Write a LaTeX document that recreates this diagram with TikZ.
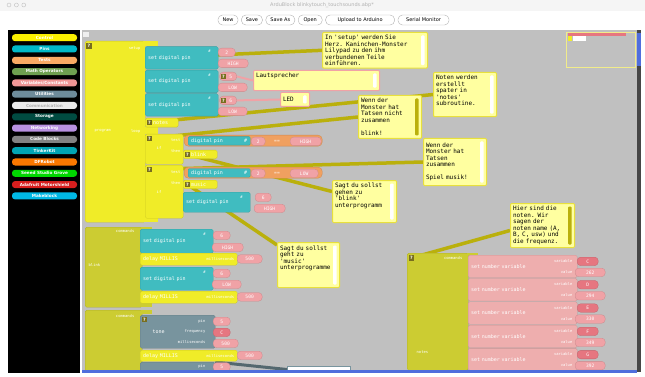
\documentclass[tikz,border=0pt]{standalone}
\usepackage{fontspec}
\setsansfont{DejaVu Sans}
\setmonofont{DejaVu Sans Mono}
\usetikzlibrary{positioning}

\definecolor{canvasgray}{RGB}{192,192,192}
\definecolor{ctrlyellow}{RGB}{240,236,40}
\definecolor{subolive}{RGB}{204,204,50}
\definecolor{pincyan}{RGB}{64,188,192}
\definecolor{valpink}{RGB}{240,162,166}
\definecolor{varpink}{RGB}{238,174,174}
\definecolor{varred}{RGB}{230,118,128}
\definecolor{cmporange}{RGB}{240,160,96}
\definecolor{utilgray}{RGB}{120,148,158}
\definecolor{cmtyellow}{RGB}{255,255,160}
\definecolor{cmtborder}{RGB}{232,224,60}
\definecolor{linkolive}{RGB}{186,176,12}
\definecolor{qolive}{RGB}{120,110,30}
\definecolor{scrollblue}{RGB}{80,110,220}
% palette colours
\definecolor{palctrl}{RGB}{250,240,0}
\definecolor{palpins}{RGB}{0,185,200}
\definecolor{paltests}{RGB}{250,170,100}
\definecolor{palmath}{RGB}{110,160,80}
\definecolor{palvars}{RGB}{240,150,150}
\definecolor{palutil}{RGB}{110,140,155}
\definecolor{palcomm}{RGB}{235,235,235}
\definecolor{palstore}{RGB}{0,75,65}
\definecolor{palnet}{RGB}{185,145,225}
\definecolor{palcode}{RGB}{130,130,130}
\definecolor{paltinker}{RGB}{0,165,180}
\definecolor{paldf}{RGB}{250,120,0}
\definecolor{palseeed}{RGB}{0,215,0}
\definecolor{palada}{RGB}{215,30,30}
\definecolor{palmake}{RGB}{0,185,230}

\newcommand{\palfont}{\fontsize{4.2}{5}\sffamily\bfseries}
\newcommand{\toolfont}{\fontsize{5}{6}\sffamily}
\newcommand{\titlefont}{\fontsize{5}{6}\sffamily}
\newcommand{\blkfont}{\fontsize{5}{5.5}\ttfamily}
\newcommand{\valfont}{\fontsize{4.6}{5}\ttfamily}
\newcommand{\qfont}{\fontsize{4.5}{5}\sffamily\bfseries}
\newcommand{\tagfont}{\fontsize{3.8}{4.2}\ttfamily}
\newcommand{\cmtfont}{\fontsize{6}{6.5}\ttfamily}

\pgfdeclarelayer{canvaslayer}
\pgfdeclarelayer{linklayer}
\pgfsetlayers{canvaslayer,linklayer,main}

\begin{document}
\begin{tikzpicture}[x=1pt, y=-1pt,
  palbtn/.style={rounded corners=3pt, minimum width=65pt, minimum height=7pt,
    inner sep=0pt, text=white, font=\palfont},
  toolbtn/.style={draw=gray!60, fill=white, rounded corners=4.5pt,
    minimum height=10pt, inner sep=1pt, font=\toolfont},
  blk/.style={anchor=north west, inner xsep=3pt, inner ysep=0pt,
    rounded corners=1.5pt, align=left, text=white, font=\blkfont, line width=0.3pt},
  ctrlblk/.style={blk, fill=ctrlyellow, draw=ctrlyellow!85!black},
  subblk/.style={blk, fill=subolive, draw=subolive!85!black},
  pinblk/.style={blk, fill=pincyan, draw=pincyan!85!black},
  toneblk/.style={blk, fill=utilgray, draw=utilgray!85!black},
  varblk/.style={blk, fill=varpink, draw=varpink!85!black},
  cmpblk/.style={blk, fill=cmporange, draw=cmporange!85!black, rounded corners=4pt},
  val/.style={anchor=north west, fill=valpink, draw=valpink!85!black, line width=0.3pt,
    rounded corners=3.5pt, inner sep=0pt, minimum height=8.5pt, text=white, font=\valfont},
  varval/.style={val, fill=varred, draw=varred!85!black},
  qbox/.style={anchor=north west, fill=qolive, text=white, font=\qfont,
    minimum size=5.5pt, inner sep=0pt},
  tag/.style={inner sep=0.5pt, text=white, font=\tagfont},
  cmt/.style={anchor=north west, fill=cmtyellow, draw=cmtborder, line width=1pt,
    rounded corners=1pt, align=left, inner xsep=2.5pt, inner ysep=2.5pt, text=black,
    font=\cmtfont, path picture={\fill[#1]
      ([xshift=-6.5pt, yshift=-3pt]path picture bounding box.north east) rectangle
      ([xshift=-3pt, yshift=3pt]path picture bounding box.south east);}},
  cmt/.default=white,
  link/.style={draw=linkolive, line width=3.5pt},
  pinklink/.style={draw=valpink, line width=2pt}
]
  \useasboundingbox (0,0) rectangle (645,377);

  % window, palette panel and canvas
  \begin{pgfonlayer}{canvaslayer}
    \fill[white] (0,0) rectangle (645,377);
    \fill[gray!8] (0,0) rectangle (645,11);
    \fill[black] (8,30) rectangle (80,373);
    \fill[canvasgray] (82,30) rectangle (637,372);
  \end{pgfonlayer}

  \node[draw=gray!50, circle, minimum size=4pt, inner sep=0pt] (dot1) at (9,5) {};
  \node[draw=gray!50, circle, minimum size=4pt, inner sep=0pt, right=3pt of dot1] (dot2) {};
  \node[draw=gray!50, circle, minimum size=4pt, inner sep=0pt, right=3pt of dot2] (dot3) {};
  \node[font=\titlefont, text=gray!60] (title) at (322,5.5) {ArduBlock blinkytouch\_touchsounds.abp*};

  % toolbar
  \node[toolbtn, minimum width=20pt] (new) at (228,20) {New};
  \node[toolbtn, minimum width=21pt, right=3pt of new] (save) {Save};
  \node[toolbtn, minimum width=29pt, right=3pt of save] (saveas) {Save As};
  \node[toolbtn, minimum width=24pt, right=3pt of saveas] (open) {Open};
  \node[toolbtn, minimum width=69pt, right=3pt of open] (upload) {Upload to Arduino};
  \node[toolbtn, minimum width=51pt, right=3pt of upload] (serial) {Serial Monitor};

  % block palette
  \node[palbtn, fill=palctrl] (pctrl) at (44.5,37.7) {Control};
  \node[palbtn, fill=palpins, below=3.9pt of pctrl] (ppins) {Pins};
  \node[palbtn, fill=paltests, below=3.9pt of ppins] (ptests) {Tests};
  \node[palbtn, fill=palmath, below=3.9pt of ptests] (pmath) {Math Operators};
  \node[palbtn, fill=palvars, below=3.9pt of pmath] (pvars) {Variables/Constants};
  \node[palbtn, fill=palutil, below=3.9pt of pvars] (putil) {Utilities};
  \node[palbtn, fill=palcomm, text=gray!60, below=3.9pt of putil] (pcomm) {Communication};
  \node[palbtn, fill=palstore, below=3.9pt of pcomm] (pstore) {Storage};
  \node[palbtn, fill=palnet, below=3.9pt of pstore] (pnet) {Networking};
  \node[palbtn, fill=palcode, below=3.9pt of pnet] (pcode) {Code Blocks};
  \node[palbtn, fill=paltinker, below=3.9pt of pcode] (ptinker) {TinkerKit};
  \node[palbtn, fill=paldf, below=3.9pt of ptinker] (pdf) {DFRobot};
  \node[palbtn, fill=palseeed, below=3.9pt of pdf] (pseeed) {Seeed Studio Grove};
  \node[palbtn, fill=palada, below=3.9pt of pseeed] (pada) {Adafruit Motorshield};
  \node[palbtn, fill=palmake, below=3.9pt of pada] (pmake) {Makeblock};

  % scrollbar and minimap
  \fill[gray!55!black] (637,30) rectangle (641,372);
  \fill[scrollblue] (637,33) rectangle (641,66);
  \fill[white!75!canvasgray] (83,32) rectangle (89,37);
  \node[anchor=north west, draw=cmtborder!60, line width=0.6pt, minimum width=69pt,
    minimum height=35pt, inner sep=0pt] (minimap) at (566,32) {};
  \fill[varred] (568,33.5) rectangle (626,36);
  \fill[ctrlyellow] (568,36) rectangle (572,41);
  \fill[white] (573,36) rectangle (586,41);

  % program: setup
  \node[ctrlblk, minimum width=60pt, minimum height=181pt] (prog) at (85,41) {};
  \fill[ctrlyellow] (143,41) rectangle (158,46);
  \fill[ctrlyellow] (143,127.5) rectangle (158,134);
  \fill[ctrlyellow] (143,217) rectangle (158,222);
  \node[qbox] (progq) at (86,43) {?};
  \node[tag, anchor=east] (setuplbl) at (141,48.5) {setup};
  \node[tag, anchor=west] (proglbl) at (94,131) {program};
  \node[tag, anchor=east] (looplbl) at (141,131) {loop};

  \node[pinblk, minimum width=73pt, minimum height=22.5pt, text width=67pt] (pin1) at (145,46.5) {set digital pin};
  \node[tag, anchor=east] (pin1n) at ([xshift=-7pt, yshift=-5pt]pin1.north east) {\#};
  \node[val, minimum width=17pt] (pin1a) at (218,48) {2};
  \node[val, minimum width=30pt] (pin1b) at (218,59) {HIGH};

  \node[pinblk, minimum width=73pt, minimum height=22.5pt, text width=67pt] (pin2) at (145,70) {set digital pin};
  \node[tag, anchor=east] (pin2n) at ([xshift=-7pt, yshift=-5pt]pin2.north east) {\#};
  \node[val, minimum width=17pt] (pin2a) at (219.5,72) {\hspace{5pt}5};
  \node[qbox] (pin2q) at (220.5,73.5) {?};
  \node[val, minimum width=29pt] (pin2b) at (218,83) {LOW};

  \node[pinblk, minimum width=73pt, minimum height=22.5pt, text width=67pt] (pin3) at (145,93.5) {set digital pin};
  \node[tag, anchor=east] (pin3n) at ([xshift=-7pt, yshift=-5pt]pin3.north east) {\#};
  \node[val, minimum width=17pt] (pin3a) at (219.5,96) {\hspace{5pt}6};
  \node[qbox] (pin3q) at (220.5,97.5) {?};
  \node[val, minimum width=29pt] (pin3b) at (218,107) {LOW};

  \node[ctrlblk, minimum width=33pt, minimum height=9pt, text width=27pt] (callnotes) at (145,118) {\hspace{5pt}notes};
  \node[qbox] (notesq) at (146.5,119.5) {?};

  % program: loop
  \node[ctrlblk, minimum width=38pt, minimum height=30pt] (if1) at (145,134) {};
  \node[qbox] (if1q) at (146.5,135.5) {?};
  \node[tag, anchor=east] (if1test) at (181,140) {test};
  \node[tag, anchor=east] (if1then) at (181,151) {then};
  \node[tag] (if1lbl) at (159,148) {if};
  \node[cmpblk, minimum width=138pt, minimum height=11pt] (cmp1) at (184,135) {};
  \node[pinblk, minimum width=62pt, minimum height=8.5pt, text width=56pt, rounded corners=1pt] (dpin1) at (188,136.5) {digital pin\hfill\#};
  \node[val, minimum width=14pt] (dpin1v) at (251,137) {2};
  \node[tag, font=\valfont] (eq1) at (277,141) {==};
  \node[val, minimum width=31pt] (hi1) at (290,137) {HIGH};
  \node[ctrlblk, minimum width=34pt, minimum height=8.5pt, text width=28pt] (callblink) at (183,150) {\hspace{5pt}blink};
  \node[qbox] (blinkq) at (184.5,151.5) {?};

  \node[ctrlblk, minimum width=38pt, minimum height=53pt] (if2) at (145,165) {};
  \node[qbox] (if2q) at (146.5,166.5) {?};
  \node[tag, anchor=east] (if2test) at (181,172) {test};
  \node[tag, anchor=east] (if2then) at (181,183) {then};
  \node[tag] (if2lbl) at (159,192) {if};
  \node[cmpblk, minimum width=138pt, minimum height=11pt] (cmp2) at (184,167) {};
  \node[pinblk, minimum width=62pt, minimum height=8.5pt, text width=56pt, rounded corners=1pt] (dpin2) at (188,168.5) {digital pin\hfill\#};
  \node[val, minimum width=14pt] (dpin2v) at (251,169) {2};
  \node[tag, font=\valfont] (eq2) at (277,173) {==};
  \node[val, minimum width=28pt] (lo2) at (290,169) {LOW};
  \node[ctrlblk, minimum width=34pt, minimum height=8.5pt, text width=28pt] (callmusic) at (183,180) {\hspace{5pt}music};
  \node[qbox] (musicq) at (184.5,181.5) {?};
  \node[pinblk, minimum width=67pt, minimum height=20pt, text width=61pt] (pin4) at (183,192) {set digital pin};
  \node[tag, anchor=east] (pin4n) at ([xshift=-7pt, yshift=-5pt]pin4.north east) {\#};
  \node[val, minimum width=16pt] (pin4a) at (255,193) {6};
  \node[val, minimum width=31pt] (pin4b) at (254,204) {HIGH};

  % subroutine blink
  \node[subblk, minimum width=57pt, minimum height=80pt] (subblink) at (85,227) {};
  \fill[subolive] (141,227) rectangle (152,231);
  \fill[subolive] (141,303) rectangle (152,307);
  \node[tag, anchor=east] (blinkcmd) at (135,231.5) {commands};
  \node[tag, anchor=west] (blinkname) at (88,265) {blink};
  \node[pinblk, minimum width=73pt, minimum height=24pt, text width=67pt] (pin5) at (140,229) {set digital pin};
  \node[tag, anchor=east] (pin5n) at ([xshift=-7pt, yshift=-5pt]pin5.north east) {\#};
  \node[val, minimum width=17pt] (pin5a) at (213,231) {6};
  \node[val, minimum width=31pt] (pin5b) at (212,243) {HIGH};
  \node[ctrlblk, minimum width=97pt, minimum height=12pt, text width=91pt] (delay1) at (140,253) {delay MILLIS\hfill{\tagfont milliseconds}};
  \node[val, minimum width=25pt] (delay1v) at (237,254.5) {500};
  \node[pinblk, minimum width=73pt, minimum height=23pt, text width=67pt] (pin6) at (140,267) {set digital pin};
  \node[tag, anchor=east] (pin6n) at ([xshift=-7pt, yshift=-5pt]pin6.north east) {\#};
  \node[val, minimum width=17pt] (pin6a) at (213,269) {6};
  \node[val, minimum width=29pt] (pin6b) at (212,280) {LOW};
  \node[ctrlblk, minimum width=97pt, minimum height=12pt, text width=91pt] (delay2) at (140,291) {delay MILLIS\hfill{\tagfont milliseconds}};
  \node[val, minimum width=25pt] (delay2v) at (237,292.5) {500};

  % subroutine music
  \node[subblk, minimum width=57pt, minimum height=62pt] (submusic) at (85,310) {};
  \fill[subolive] (141,310) rectangle (152,314);
  \node[tag, anchor=east] (musiccmd) at (135,316) {commands};
  \node[toneblk, minimum width=75pt, minimum height=33pt] (tone) at (140,315) {};
  \node[qbox] (toneq) at (141.5,316.5) {?};
  \node[tag, anchor=east] (tonepinlbl) at (206,321) {pin};
  \node[tag, anchor=east] (tonefreqlbl) at (206,331.5) {frequency};
  \node[tag, anchor=east] (tonedurlbl) at (206,342.5) {milliseconds};
  \node[tag, anchor=west, font=\blkfont] (tonelbl) at (152,332) {tone};
  \node[val, minimum width=17pt] (tonepin) at (213,317) {5};
  \node[varval, minimum width=17pt] (tonefreq) at (213,328) {C};
  \node[val, minimum width=25pt] (tonedur) at (213,339) {500};
  \node[ctrlblk, minimum width=97pt, minimum height=11pt, text width=91pt] (delay3) at (140,350) {delay MILLIS\hfill{\tagfont milliseconds}};
  \node[val, minimum width=25pt] (delay3v) at (237,351) {500};
  \node[toneblk, minimum width=75pt, minimum height=10pt] (notone) at (140,362) {};
  \node[tag, anchor=east] (notonelbl) at (206,366.5) {pin};
  \node[val, minimum width=17pt] (notonepin) at (213,362.5) {5};

  % subroutine notes
  \node[subblk, minimum width=61pt, minimum height=117pt] (subnotes) at (407,253) {};
  \fill[subolive] (467,253) rectangle (478,258);
  \node[qbox] (notesubq) at (408.5,255) {?};
  \node[tag, anchor=east] (notescmd) at (463,258.5) {commands};
  \node[tag, anchor=west] (notesname) at (416,352) {notes};

  \node[varblk, minimum width=109pt, minimum height=22.5pt, text width=103pt] (setc) at (468,255) {set number variable};
  \node[tag, anchor=east] (setcvar) at (573,261) {variable};
  \node[tag, anchor=east] (setcval) at (573,272) {value};
  \node[varval, minimum width=21pt] (setcn) at (577,257) {C};
  \node[val, minimum width=30pt] (setcf) at (575,268) {262};

  \node[varblk, minimum width=109pt, minimum height=22.5pt, text width=103pt] (setd) at (468,278.3) {set number variable};
  \node[tag, anchor=east] (setdvar) at (573,284.3) {variable};
  \node[tag, anchor=east] (setdval) at (573,295.3) {value};
  \node[varval, minimum width=21pt] (setdn) at (577,280.3) {D};
  \node[val, minimum width=30pt] (setdf) at (575,291.3) {294};

  \node[varblk, minimum width=109pt, minimum height=22.5pt, text width=103pt] (sete) at (468,301.6) {set number variable};
  \node[tag, anchor=east] (setevar) at (573,307.6) {variable};
  \node[tag, anchor=east] (seteval) at (573,318.6) {value};
  \node[varval, minimum width=21pt] (seten) at (577,303.6) {E};
  \node[val, minimum width=30pt] (setef) at (575,314.6) {330};

  \node[varblk, minimum width=109pt, minimum height=22.5pt, text width=103pt] (setf) at (468,325) {set number variable};
  \node[tag, anchor=east] (setfvar) at (573,331) {variable};
  \node[tag, anchor=east] (setfval) at (573,342) {value};
  \node[varval, minimum width=21pt] (setfn) at (577,327) {F};
  \node[val, minimum width=30pt] (setff) at (575,338) {349};

  \node[varblk, minimum width=109pt, minimum height=22pt, text width=103pt] (setg) at (468,348.2) {set number variable};
  \node[tag, anchor=east] (setgvar) at (573,354.2) {variable};
  \node[tag, anchor=east] (setgval) at (573,365.2) {value};
  \node[varval, minimum width=21pt] (setgn) at (577,350.2) {G};
  \node[val, minimum width=30pt] (setgf) at (575,361.2) {392};

  % comments
  \node[cmt, text width=100pt] (c1) at (322,32) {In 'setup' werden Sie\\Herz. Kaninchen-Monster\\Lilypad zu den ihm\\verbundenen Teile\\einführen.};
  \node[cmt, draw=valpink, text width=121pt, minimum height=18pt] (cspeaker) at (253,70) {Lautsprecher\\[4pt]\mbox{}};
  \node[cmt, draw=valpink, text width=24pt, minimum height=14pt] (cled) at (280,92) {LED};
  \node[cmt, text width=58pt, minimum height=41pt] (cnoten) at (433,72) {Noten werden\\erstellt\\spater in\\'notes'\\subroutine.\\[2pt]\mbox{}};
  \node[cmt=linkolive, text width=58pt, minimum height=43pt] (cwenn1) at (358,95) {Wenn der\\Monster hat\\Tatsen nicht\\zusammen\\[6.5pt]blink!};
  \node[cmt, text width=58pt, minimum height=47pt] (cwenn2) at (423,138) {Wenn der\\Monster hat\\Tatsen\\zusammen\\[6.5pt]Spiel musik!};
  \node[cmt, text width=59pt, minimum height=42pt] (csagt1) at (332,180) {Sagt du sollst\\gehen zu\\'blink'\\unterprogramm\\[6pt]\mbox{}};
  \node[cmt, text width=57pt, minimum height=45pt] (csagt2) at (277,242) {Sagt du sollst\\geht zu\\'music'\\unterprogramme\\[8pt]\mbox{}};
  \node[cmt=linkolive, text width=59pt, minimum height=44pt] (chier) at (510,203) {Hier sind die\\noten. Wir\\sagen der\\noten name (A,\\B, C, usw) und\\die frequenz.};
  \node[anchor=north west, fill=white, draw=utilgray, line width=1pt, minimum width=63pt,
    minimum height=6pt, inner sep=0pt] (cbottom) at (287,366) {};

  % comment links
  \begin{pgfonlayer}{linklayer}
    \coordinate (setupq) at (146,58);
    \draw[link] (setupq) -- (c1.west);
    \draw[link] (notesq) -- (cnoten.west);
    \draw[link] (if1q) -- (cwenn1.west);
    \draw[link] (if2q) -- (cwenn2.west);
    \draw[link] (blinkq) -- ([yshift=10pt]csagt1.west);
    \draw[link] (musicq) -- ([yshift=-3pt]csagt2.north west);
    \draw[link] (notesubq) -- ([yshift=-5pt]chier.west);
    \draw[pinklink] (pin2a.east) -- (cspeaker.west);
    \draw[pinklink] (pin3a.east) -- (cled.west);
    \draw[line width=3pt, utilgray!70!black] (notone.north east) -- (cbottom.west);
  \end{pgfonlayer}

  \fill[scrollblue] (82,370) rectangle (637,372.5);
\end{tikzpicture}
\end{document}
